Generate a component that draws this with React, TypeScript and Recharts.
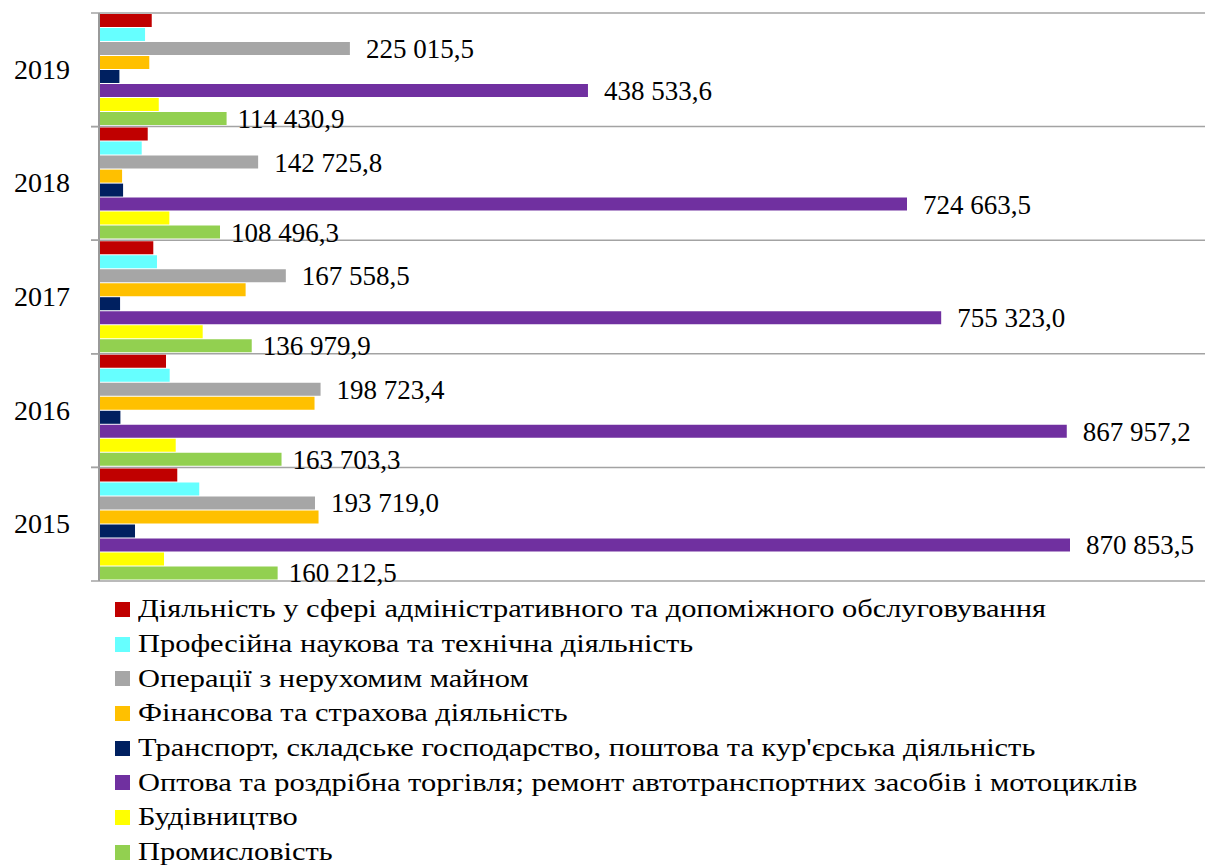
import { Bar, BarChart, CartesianGrid, LabelList, XAxis, YAxis } from "recharts";

const years = ["2019", "2018", "2017", "2016", "2015"];

const admin = [47300, 43700, 48700, 60100, 70200];
const professional = [41300, 38300, 52000, 63400, 89900];
const realEstate = [225015.5, 142725.8, 167558.5, 198723.4, 193719.0];
const finance = [45100, 20700, 131500, 193300, 196900];
const transport = [18300, 21600, 18900, 19200, 32300];
const trade = [438533.6, 724663.5, 755323.0, 867957.2, 870853.5];
const construction = [53600, 63100, 93000, 68800, 58300];
const industry = [114430.9, 108496.3, 136979.9, 163703.3, 160212.5];

const xTicks = [0, 200000, 400000, 600000, 800000, 1000000];

const series = [
  { key: "admin", values: admin, color: "#C00000", labeled: false, name: "Діяльність у сфері адміністративного та допоміжного обслуговування" },
  { key: "professional", values: professional, color: "#66FFFF", labeled: false, name: "Професійна наукова та технічна діяльність" },
  { key: "realEstate", values: realEstate, color: "#A6A6A6", labeled: true, name: "Операції з нерухомим майном" },
  { key: "finance", values: finance, color: "#FFC000", labeled: false, name: "Фінансова та страхова діяльність" },
  { key: "transport", values: transport, color: "#002060", labeled: false, name: "Транспорт, складське господарство, поштова та кур'єрська діяльність" },
  { key: "trade", values: trade, color: "#7030A0", labeled: true, name: "Оптова та роздрібна торгівля; ремонт автотранспортних засобів і мотоциклів" },
  { key: "construction", values: construction, color: "#FFFF00", labeled: false, name: "Будівництво" },
  { key: "industry", values: industry, color: "#92D050", labeled: true, name: "Промисловість" }
];

const data = years.map((year, i) => {
  const row: Record<string, string | number> = { year };
  series.forEach((s) => {
    row[s.key] = s.values[i];
  });
  return row;
});

const FONT = "'Liberation Serif', 'Times New Roman', serif";
const GRID = "#a3a3a3";

function fmt(v: number) {
  const [int, dec] = v.toFixed(1).split(".");
  return int.replace(/\B(?=(\d{3})+(?!\d))/g, " ") + "," + dec;
}

function YearTick(props: any) {
  const { x, y, payload } = props;
  const half = payload.offset ?? 0;
  return (
    <g>
      <line x1={x + 21} x2={x + 29} y1={y - half} y2={y - half} stroke={GRID} strokeWidth={1.5} />
      <line x1={x + 21} x2={x + 29} y1={y + half} y2={y + half} stroke={GRID} strokeWidth={1.5} />
      <text x={x} y={y} dy={9} textAnchor="end" fontFamily={FONT} fontSize={28} fill="#000">
        {payload.value}
      </text>
    </g>
  );
}

export default function App() {
  return (
    <div style={{ position: "fixed", left: 0, top: 0, width: 1205, height: 866, overflow: "hidden", background: "#fff" }}>
      <BarChart
        width={1230}
        height={590}
        data={data}
        layout="vertical"
        margin={{ top: 13, right: 16, bottom: 9, left: 0 }}
        barCategoryGap={1}
        barGap={1}
      >
        <CartesianGrid
          stroke={GRID}
          strokeWidth={1.5}
          horizontalCoordinatesGenerator={({ offset }: any) =>
            years.map((_, i) => offset.top + (offset.height * i) / years.length).concat(offset.top + offset.height)
          }
        />
        <XAxis type="number" domain={[0, 1000000]} ticks={xTicks} tick={false} tickLine={false} axisLine={false} height={0} />
        <YAxis
          type="category"
          dataKey="year"
          width={99}
          tickSize={0}
          tickMargin={29}
          tickLine={false}
          axisLine={{ stroke: "#999", strokeWidth: 2 }}
          tick={<YearTick />}
        />
        {series.map((s) => (
          <Bar key={s.key} dataKey={s.key} fill={s.color} isAnimationActive={false}>
            {s.labeled && (
              <LabelList
                dataKey={s.key}
                position="right"
                offset={s.key === "industry" ? 11 : 16}
                formatter={(v: any) => fmt(Number(v))}
                style={{ fontFamily: FONT, fontSize: 27, fill: "#000" }}
              />
            )}
          </Bar>
        ))}
      </BarChart>
      <div style={{ position: "absolute", left: 115, top: 592, fontFamily: FONT, fontSize: 26, color: "#000" }}>
        {series.map((s) => (
          <div key={s.key} style={{ display: "flex", alignItems: "center", height: 34.7, whiteSpace: "nowrap" }}>
            <span style={{ display: "inline-block", width: 15, height: 15, background: s.color, marginRight: 8 }} />
            <span style={{ display: "inline-block", transform: "scaleX(1.17)", transformOrigin: "left center" }}>{s.name}</span>
          </div>
        ))}
      </div>
    </div>
  );
}
